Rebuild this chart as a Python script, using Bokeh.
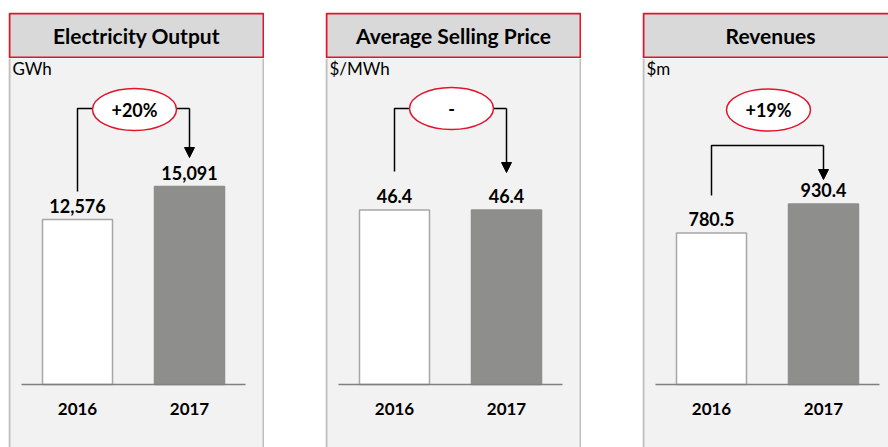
from bokeh.plotting import figure
from bokeh.layouts import row, column, Spacer
from bokeh.models import Range1d, FixedTicker, LinearAxis, Arrow, NormalHead, ColumnDataSource
from bokeh.core.properties import value
from bokeh.embed import file_html
from bokeh.resources import INLINE

# ---------------- data ----------------
years = [2016, 2017]
tick_labels = ["2016", "2017"]
titles = ["Electricity Output", "Average Selling Price", "Revenues"]
units = ["GWh", "$/MWh", "$m"]
output_gwh = [12576, 15091]
price_mwh = [46.4, 46.4]
revenue_m = [780.5, 930.4]
value_labels_output = ["12,576", "15,091"]
value_labels_price = ["46.4", "46.4"]
value_labels_revenue = ["780.5", "930.4"]
changes = ["+20%", "-", "+19%"]

# ---------------- style ----------------
FONT = "Lato"
PANEL = "#f2f2f2"
HEAD = "#d9d9d9"
RED = "#e3132c"
BORDER = "#bfbfbf"
AXIS = "#808080"
GREY_BAR = "#8e8e8c"
WHITE_BAR_LINE = "#a6a6a6"

MAIN_H = 389          # main panel height
BASE_FROM_TOP = 326   # baseline position from top of main panel (px)
PX_PER_YEAR = 112.0
X_FIRST = 69.0        # px position of first bar centre
PAGE_TOP = 58         # page y of main panel top

panels = [
    dict(title=titles[0], unit=units[0], vals=output_gwh, labels=value_labels_output,
         change=changes[0], width=256, scale=0.01312,
         bracket=108, left_end=191, tip=157, ell_y=109, split=True),
    dict(title=titles[1], unit=units[1], vals=price_mwh, labels=value_labels_price,
         change=changes[1], width=256, scale=3.761,
         bracket=108, left_end=171, tip=172, ell_y=108, split=True),
    dict(title=titles[2], unit=units[2], vals=revenue_m, labels=value_labels_revenue,
         change=changes[2], width=246, scale=0.194,
         bracket=145, left_end=195, tip=179, ell_y=109.5, split=False),
]


def make_panel(cfg):
    W = cfg["width"]
    s = cfg["scale"]

    def dx(px):
        return years[0] + (px - X_FIRST) / PX_PER_YEAR

    def dy(page_y):
        return (PAGE_TOP + BASE_FROM_TOP - page_y) / s

    # ---- header ----
    h = figure(width=W, height=46, x_range=Range1d(0, W), y_range=Range1d(0, 46),
               output_backend="svg", toolbar_location=None,
               x_axis_location=None, y_axis_location=None, min_border=0,
               background_fill_color="white", border_fill_color="white",
               outline_line_color=None)
    h.grid.visible = False
    right = W - 1 if W >= 256 else W + 12
    h.quad(left=1, right=right, bottom=1, top=45, fill_color=HEAD,
           line_color=RED, line_width=2)
    h.text(x=[128], y=[23], text=[cfg["title"]], text_align="center",
           text_baseline="middle", text_font=value(FONT), text_font_style="bold",
           text_font_size="21px", text_color="black")

    # ---- main ----
    x0 = dx(0)
    x1 = dx(W)
    y0 = -(MAIN_H - BASE_FROM_TOP) / s
    y1 = BASE_FROM_TOP / s
    p = figure(width=W, height=MAIN_H, x_range=Range1d(x0, x1), y_range=Range1d(y0, y1),
               output_backend="svg", toolbar_location=None,
               x_axis_location=None, y_axis_location=None, min_border=0,
               background_fill_color=PANEL, border_fill_color=PANEL,
               outline_line_color=None)
    p.grid.visible = False

    # panel side borders
    p.segment(x0=[dx(1)], y0=[y0], x1=[dx(1)], y1=[y1], line_color=BORDER, line_width=2)
    if W >= 256:
        p.segment(x0=[dx(255)], y0=[y0], x1=[dx(255)], y1=[y1], line_color=BORDER, line_width=2)

    src = ColumnDataSource(dict(x=years, top=cfg["vals"], lab=cfg["labels"],
                                fill=["white", GREY_BAR], line=[WHITE_BAR_LINE, GREY_BAR]))
    p.vbar(x="x", top="top", bottom=0, width=70 / PX_PER_YEAR, source=src,
           fill_color="fill", line_color="line", line_width=1.5)
    p.text(x="x", y="top", text="lab", source=src, text_align="center",
           text_baseline="alphabetic", y_offset=-14, text_font=value(FONT),
           text_font_style="bold", text_font_size="18px", text_color="black")

    ax = LinearAxis(fixed_location=0, ticker=FixedTicker(ticks=years),
                    bounds=(years[0] - 0.5, years[1] + 0.5))
    ax.major_label_overrides = {y: t for y, t in zip(years, tick_labels)}
    ax.axis_line_color = AXIS
    ax.axis_line_width = 1.5
    ax.major_tick_line_color = None
    ax.minor_tick_line_color = None
    ax.major_label_standoff = 12
    ax.major_label_text_font = FONT
    ax.major_label_text_font_style = "bold"
    ax.major_label_text_font_size = "17px"
    ax.major_label_text_color = "black"
    p.add_layout(ax, "below")

    # unit label
    p.text(x=[dx(4)], y=[dy(68)], text=[cfg["unit"]], text_align="left",
           text_baseline="middle", text_font=value(FONT), text_font_size="17px",
           text_color="black")

    # connector
    by = dy(cfg["bracket"])
    ex = dx(126)
    if not cfg["split"]:
        p.line(x=[years[0], years[0], years[1]], y=[dy(cfg["left_end"]), by, by],
               line_color="black", line_width=1.5)
    else:
        p.line(x=[years[0], years[0], dx(126 - 42)], y=[dy(cfg["left_end"]), by, by],
               line_color="black", line_width=1.5)
        p.line(x=[dx(126 + 42), years[1]], y=[by, by], line_color="black", line_width=1.5)
    p.add_layout(Arrow(x_start=years[1], y_start=by, x_end=years[1], y_end=dy(cfg["tip"]),
                       line_color="black", line_width=1.5,
                       end=NormalHead(size=10, fill_color="black", line_color="black")))

    p.ellipse(x=[ex], y=[dy(cfg["ell_y"])], width=84, height=42,
              width_units="screen", height_units="screen",
              fill_color="white", line_color=RED, line_width=1.5)
    p.text(x=[ex], y=[dy(cfg["ell_y"])], text=[cfg["change"]], text_align="center",
           text_baseline="middle", text_font=value(FONT), text_font_style="bold",
           text_font_size="18px", text_color="black")

    return column(h, p, spacing=0)


cols = [make_panel(c) for c in panels]
layout = column(
    Spacer(width=10, height=12),
    row(Spacer(width=8, height=10), cols[0], Spacer(width=61, height=10), cols[1],
        Spacer(width=61, height=10), cols[2], spacing=0),
    spacing=0,
)

open("out.html", "w").write(file_html(layout, INLINE))
